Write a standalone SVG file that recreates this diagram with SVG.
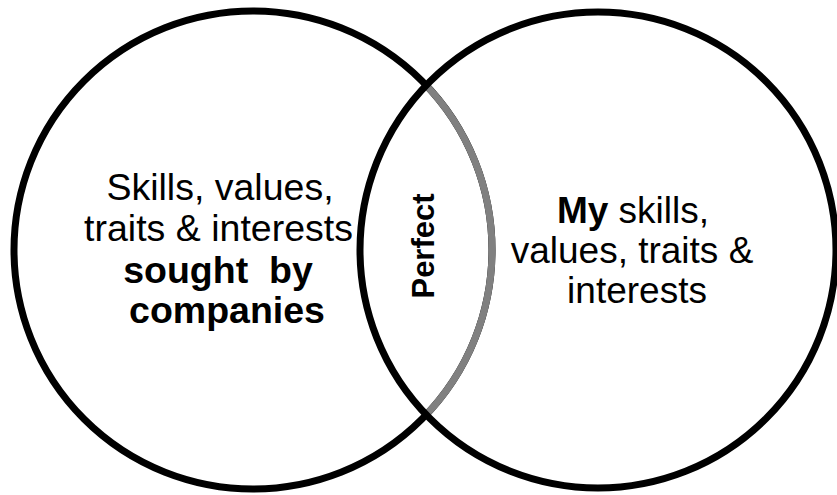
<svg xmlns="http://www.w3.org/2000/svg" width="837" height="495" viewBox="0 0 837 495">
<style>
.ring{fill:none;stroke:#000;stroke-width:7}
.overlap{fill:none;stroke:#808080;stroke-width:7}
.t{font-family:"Liberation Sans",Arial,sans-serif;font-size:37px;fill:#000;text-anchor:middle}
.l{font-size:37.5px}
.b{font-weight:bold}
.p{font-family:"Liberation Sans",Arial,sans-serif;font-size:31px;font-weight:bold;fill:#000;text-anchor:middle}
</style>
<rect width="837" height="495" fill="#fff"/>
<g id="left-circle">
<circle class="ring" cx="253" cy="250" r="239"/>
<path class="overlap" d="M426.2 85.3 A239 239 0 0 1 426.2 414.7"/>
<text class="t l" x="220" y="200">Skills, values,</text>
<text class="t l" x="218.5" y="241">traits &amp; interests</text>
<text class="t l b" x="218" y="283" xml:space="preserve">sought  by</text>
<text class="t l b" x="227" y="323">companies</text>
</g>
<g id="right-circle">
<circle class="ring" cx="598" cy="250" r="238"/>
<text class="t" x="633" y="223"><tspan class="b">My</tspan> skills,</text>
<text class="t" x="632" y="263">values, traits &amp;</text>
<text class="t" x="637" y="303">interests</text>
</g>
<g id="overlap-label">
<text class="p" transform="translate(434 246) rotate(-90)">Perfect</text>
</g>
<g id="connectors"></g>
</svg>
